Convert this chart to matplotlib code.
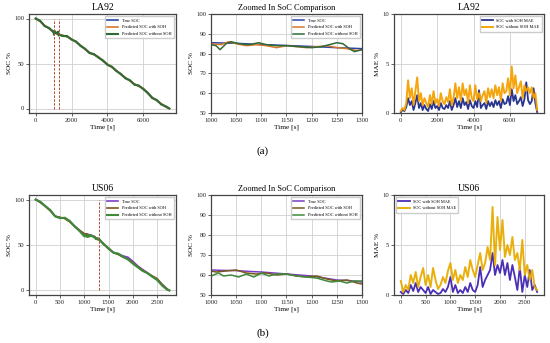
import numpy as np
import matplotlib
matplotlib.use("Agg")
import matplotlib.pyplot as plt

plt.rcParams['font.family'] = ['Liberation Serif', 'DejaVu Serif']

# ---------------- LA92 data ----------------
la_t_coarse = [0, 250, 500, 750, 1500, 1750, 2000, 2250, 2500, 2750, 3000, 3250, 3500, 3750,
               4000, 4250, 4500, 4750, 5000, 5250, 5500, 5750, 6000, 6250, 6500, 6750, 7000, 7250, 7450]
la_true_coarse = [100, 97, 92, 89, 81, 80, 77, 74, 70, 66, 62, 60, 57, 53,
                  49, 46, 42, 38, 34, 31, 27, 25, 22, 17, 12, 9, 5, 2, 0]
la_with_coarse = [100, 96.5, 92.5, 88.5, 81.5, 79.5, 77.5, 73.5, 70.5, 65.5, 62.5, 59.5, 57.5, 52.5,
                  49.5, 45.5, 42.5, 37.5, 34.5, 30.5, 27.5, 24.5, 22.5, 16.5, 12.5, 8.5, 5.5, 1.5, 0]
la_wo_coarse = [100, 97.5, 91.5, 89.5, 80.5, 80.5, 76.5, 74.5, 69.5, 66.5, 61.5, 60.5, 56.5, 53.5,
                48.5, 46.5, 41.5, 38.5, 33.5, 31.5, 26.5, 25.5, 21.5, 17.5, 11.5, 9.5, 4.5, 2.5, 0]

la_t_true_fine = [1000, 1050, 1100, 1150, 1200, 1250, 1300]
la_true_fine = [85.5, 85.2, 84.6, 84.1, 83.6, 83.0, 82.5]
la_t_with_fine = [1000, 1020, 1035, 1050, 1070, 1090, 1110, 1130, 1150, 1170, 1190, 1210, 1230, 1250, 1270, 1290, 1300]
la_with_fine = [85, 84.5, 86, 85, 84, 84.5, 84, 83, 84, 83.5, 83, 83.5, 84, 83, 82.5, 81.5, 82]
la_t_wo_fine = [1000, 1010, 1018, 1030, 1040, 1055, 1075, 1095, 1110, 1130, 1150, 1175, 1200, 1220,
                1235, 1250, 1262, 1275, 1285, 1300]
la_wo_fine = [84.5, 84, 82, 85, 86, 85, 84.5, 85.5, 84.5, 84, 84, 83.5, 83, 83.5,
              84.5, 85.5, 85, 82.5, 81, 82]

la_mae_t = list(range(0, 7501, 100))
la_mae_wo = [0.2, 0.5, 0.3, 1.0,
             3.3, 1.5, 2.5, 0.8, 2.2, 3.6, 1.2,
             2.0, 0.8, 1.5, 1.0, 0.6, 1.8, 0.9, 2.2, 1.0, 1.4,
             0.7, 2.0, 1.2, 0.9, 1.6, 1.1, 2.4, 0.8, 1.5, 3.0,
             1.5, 2.6, 1.2, 3.0, 1.8, 2.4, 1.0, 2.8, 1.5, 1.2,
             2.8, 1.4, 2.0, 1.2, 1.8, 2.2, 1.0, 2.5, 1.6, 2.4,
             1.5, 2.8, 1.8, 2.6, 1.2, 3.0, 2.0, 2.2, 3.5, 1.8,
             4.7, 2.5, 3.8, 2.0, 2.6, 3.2, 1.5, 2.8, 2.2, 2.6,
             2.0, 2.6, 1.5, 2.0, 0.3]
la_mae_with = [0.1, 0.3, 0.2, 0.6,
               1.5, 0.8, 1.2, 0.3, 1.0, 1.8, 0.5,
               1.0, 0.3, 0.8, 0.4, 0.2, 0.9, 0.4, 1.2, 0.5, 0.7,
               0.3, 1.0, 0.5, 0.4, 0.8, 0.5, 1.2, 0.3, 0.8, 1.5,
               0.6, 1.2, 0.5, 1.5, 0.8, 1.1, 0.4, 1.3, 0.7, 0.5,
               1.2, 0.6, 2.3, 0.5, 0.8, 1.0, 0.4, 1.2, 0.7, 1.1,
               0.6, 1.3, 0.8, 1.2, 0.5, 1.4, 0.9, 1.0, 1.7, 0.8,
               2.4, 1.2, 1.8, 0.9, 1.2, 1.6, 0.7, 1.4, 3.1, 1.3,
               0.9, 1.2, 2.5, 1.0, 0.1]

# ---------------- US06 data ----------------
us_t_coarse = [0, 100, 200, 300, 400, 500, 600, 700, 800, 900, 1400, 1500, 1600, 1700, 1800,
               1900, 2000, 2100, 2200, 2300, 2400, 2500, 2600, 2700, 2750]
us_true_coarse = [100, 97, 93, 88, 82, 80, 79.5, 76, 71, 66, 51, 46, 42, 40, 38,
                  36.5, 32, 27, 23, 19.5, 15.5, 12.5, 7, 2, 0]
us_with_coarse = [100, 96.5, 92.5, 87.5, 81.5, 80.5, 79, 75.5, 70.5, 66.5, 51.5, 45.5, 41.5, 39.5, 36.5,
                  34.5, 30.5, 26, 22.5, 19, 16, 13, 6.5, 1.5, 0]
us_wo_coarse = [100, 97.5, 92.5, 88.5, 81.5, 79.5, 80, 76.5, 70.5, 65.5, 50.5, 46.5, 41.5, 40.5, 37,
                34, 29.5, 25.5, 21.5, 19, 15, 11.5, 5.5, 1, 0]

us_t_true_fine = [1000, 1025, 1050, 1075, 1100, 1125, 1150, 1175, 1200, 1225, 1250, 1275, 1300]
us_true_fine = [62.5, 62.3, 62.2, 61.8, 61.5, 61.0, 60.5, 60.0, 59.5, 58.5, 57.5, 57.2, 56.5]
us_t_with_fine = [1000, 1010, 1030, 1050, 1070, 1090, 1110, 1130, 1150, 1170, 1190, 1210, 1230,
                  1250, 1270, 1290, 1300]
us_with_fine = [62, 61.5, 62, 62.5, 61, 60.5, 61, 60, 60.5, 59.5, 59, 59.5, 58, 57, 57.5, 56, 55.5]
us_t_wo_fine = [1000, 1015, 1025, 1040, 1055, 1070, 1085, 1100, 1115, 1130, 1150, 1170, 1190, 1210,
                1230, 1240, 1255, 1270, 1285, 1300]
us_wo_fine = [59.5, 61, 59.5, 60, 59, 60.5, 59, 61, 59.5, 60.5, 60.5, 59.5, 59, 58.5,
              57, 56.5, 57, 56, 57, 57]

us_mae_t = list(range(0, 2751, 50))
us_mae_wo = [1.4, 0.3, 1.0, 0.5, 2.0, 1.2, 2.3, 0.8, 1.8, 2.7, 1.0, 2.0, 0.8, 2.7, 1.5, 0.6,
             1.0, 1.8, 1.2, 2.4, 3.2, 1.5, 2.5, 1.2, 2.0, 1.5, 2.8, 1.8, 3.5, 2.5, 1.8, 3.0,
             4.2, 2.5, 3.2, 4.8, 3.5, 8.8, 3.0, 7.8, 4.5, 7.5, 3.8, 5.0, 4.0, 5.8, 3.5, 4.2,
             2.5, 5.5, 2.0, 3.0, 1.5, 2.5, 0.8, 0.5]
us_mae_with = [0.3, 0.1, 0.5, 0.2, 1.0, 0.4, 1.2, 0.3, 0.8, 0.5, 0.2, 0.8, 0.1, 0.5, 0.3, 0.1,
               0.2, 0.6, 0.3, 0.8, 1.8, 0.3, 1.0, 0.2, 0.5, 0.2, 0.8, 0.3, 1.2, 0.5, 0.3, 1.0,
               2.8, 0.8, 1.5, 2.0, 2.5, 4.2, 2.0, 3.0, 2.2, 3.5, 2.0, 3.2, 1.5, 3.0, 1.8, 0.5,
               2.8, 0.3, 2.0, 0.8, 2.5, 0.5, 1.0, 0.3]


def merge(tc, vc, tf, vf):
    pairs = sorted(zip(list(tc) + list(tf), list(vc) + list(vf)))
    return [p[0] for p in pairs], [p[1] for p in pairs]


W, H = 550, 343
fig = plt.figure(figsize=(W / 100, H / 100), dpi=100)


def ax_px(x0, y0, x1, y1):
    return fig.add_axes([x0 / W, 1 - y1 / H, (x1 - x0) / W, (y1 - y0) / H])


spine_c = '#444444'
fs_tick = 4.8
fs_lab = 5.2
fs_title = 7
fs_leg = 3.2


def style(ax):
    ax.grid(True, color='#d0d0d0', lw=0.6)
    ax.set_axisbelow(True)
    for s in ax.spines.values():
        s.set_color(spine_c)
        s.set_linewidth(0.9)
    ax.tick_params(labelsize=fs_tick, length=2, width=0.5, pad=1.5, colors='#222222')
    ax.set_xlabel('Time [s]', fontsize=fs_lab, labelpad=1.5)


rows = [
    dict(name='LA92', y0=14, y1=113, label='(a)', label_y=151,
         c_true='#2b45a8', c_with='#d9782a', c_wo='#2f6b35',
         tc=la_t_coarse, true_c=la_true_coarse, with_c=la_with_coarse, wo_c=la_wo_coarse,
         tf_true=la_t_true_fine, true_f=la_true_fine, tf_with=la_t_with_fine, with_f=la_with_fine,
         tf_wo=la_t_wo_fine, wo_f=la_wo_fine,
         mae_t=la_mae_t, mae_with=la_mae_with, mae_wo=la_mae_wo,
         xticks=[0, 2000, 4000, 6000], vlines=[1000, 1300],
         c_mwith='#2a3590', c_mwo='#f5a000', mae_leg='upper right'),
    dict(name='US06', y0=195, y1=295, label='(b)', label_y=333,
         c_true='#7b3fc4', c_with='#7a5a1c', c_wo='#3f8a3a',
         tc=us_t_coarse, true_c=us_true_coarse, with_c=us_with_coarse, wo_c=us_wo_coarse,
         tf_true=us_t_true_fine, true_f=us_true_fine, tf_with=us_t_with_fine, with_f=us_with_fine,
         tf_wo=us_t_wo_fine, wo_f=us_wo_fine,
         mae_t=us_mae_t, mae_with=us_mae_with, mae_wo=us_mae_wo,
         xticks=[0, 500, 1000, 1500, 2000, 2500], vlines=[1300],
         c_mwith='#4a2fb5', c_mwo='#e8ac00', mae_leg='upper left'),
]

for r in rows:
    t_true, v_true = merge(r['tc'], r['true_c'], r['tf_true'], r['true_f'])
    t_with, v_with = merge(r['tc'], r['with_c'], r['tf_with'], r['with_f'])
    t_wo, v_wo = merge(r['tc'], r['wo_c'], r['tf_wo'], r['wo_f'])

    # full curve
    ax1 = ax_px(29, r['y0'], 176, r['y1'])
    ax1.plot(t_true, v_true, color=r['c_true'], lw=1.2, label='True SOC')
    ax1.plot(t_with, v_with, color=r['c_with'], lw=1.2, label='Predicted SOC with SOH')
    ax1.plot(t_wo, v_wo, color=r['c_wo'], lw=1.5, label='Predicted SOC without SOH')
    for xv in r['vlines']:
        ax1.plot([xv, xv], [0, 100], color='#b5482a', lw=0.7, ls='--', dashes=(2.5, 1.5))
    ax1.set_title(r['name'], fontsize=fs_title, pad=3)
    ax1.set_ylabel('SOC %', fontsize=fs_lab, labelpad=1.5)
    ax1.set_yticks([0, 50, 100])
    ax1.set_xticks(r['xticks'])
    style(ax1)
    ax1.legend(loc='upper right', fontsize=fs_leg, handlelength=2.5, borderpad=0.5,
               labelspacing=0.6, framealpha=1, edgecolor='#cccccc', fancybox=False)

    # zoomed
    ax2 = ax_px(211, r['y0'], 362, r['y1'])
    ax2.plot(t_true, v_true, color=r['c_true'], lw=1.1, label='True SOC')
    ax2.plot(t_with, v_with, color=r['c_with'], lw=1.1, label='Predicted SOC with SOH')
    ax2.plot(t_wo, v_wo, color=r['c_wo'], lw=1.1, label='Predicted SOC without SOH')
    ax2.set_xlim(1000, 1300)
    ax2.set_ylim(50, 100)
    ax2.set_xticks(list(range(1000, 1301, 50)))
    ax2.set_yticks(list(range(50, 101, 10)))
    ax2.set_title('Zoomed In SoC Comparison', fontsize=6, pad=3)
    ax2.set_ylabel('SOC %', fontsize=fs_lab, labelpad=1.5)
    style(ax2)
    ax2.legend(loc='upper right', fontsize=fs_leg, handlelength=2.5, borderpad=0.5,
               labelspacing=0.6, framealpha=1, edgecolor='#cccccc', fancybox=False)

    # MAE
    ax3 = ax_px(394, r['y0'], 544, r['y1'])
    ax3.plot(r['mae_t'], r['mae_with'], color=r['c_mwith'], lw=1.3, label='SOC with SOH MAE')
    ax3.plot(r['mae_t'], r['mae_wo'], color=r['c_mwo'], lw=1.4, alpha=0.95, label='SOC without SOH MAE')
    ax3.set_ylim(0, 10)
    ax3.set_yticks([0, 5, 10])
    ax3.set_xticks(r['xticks'])
    ax3.set_title(r['name'], fontsize=fs_title, pad=3)
    ax3.set_ylabel('MAE %', fontsize=fs_lab, labelpad=1.5)
    style(ax3)
    ax3.legend(loc=r['mae_leg'], fontsize=fs_leg, handlelength=2.5, borderpad=0.5,
               labelspacing=0.6, framealpha=1, edgecolor='#cccccc', fancybox=False)

    fig.text(263 / W, 1 - r['label_y'] / H, r['label'], fontsize=8, ha='center', va='center')

fig.savefig('out.png', dpi=100, facecolor='white')
